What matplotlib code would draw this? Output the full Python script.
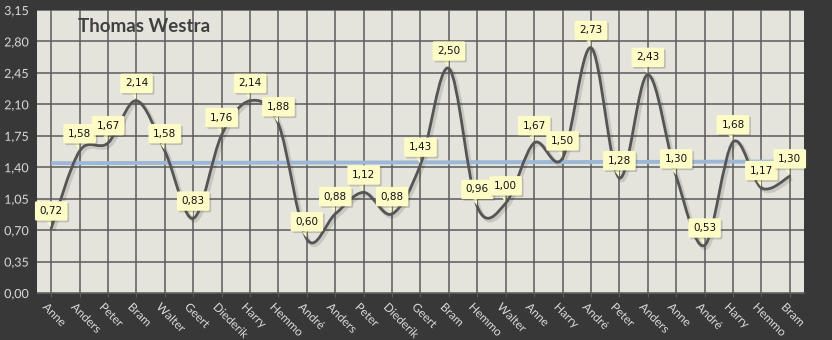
import numpy as np
import matplotlib
matplotlib.use("Agg")
import matplotlib.pyplot as plt
from matplotlib.path import Path
from matplotlib.patches import PathPatch
import matplotlib.patheffects as pe
import matplotlib.transforms as mtrans

names = ["Anne", "Anders", "Peter", "Bram", "Walter", "Geert", "Diederik", "Harry", "Hemmo",
         "André", "Anders", "Peter", "Diederik", "Geert", "Bram", "Hemmo", "Walter", "Anne",
         "Harry", "André", "Peter", "Anders", "Anne", "André", "Harry", "Hemmo", "Bram"]
values = [0.72, 1.58, 1.67, 2.14, 1.58, 0.83, 1.76, 2.14, 1.88, 0.60, 0.88, 1.12, 0.88, 1.43,
          2.50, 0.96, 1.00, 1.67, 1.50, 2.73, 1.28, 2.43, 1.30, 0.53, 1.68, 1.17, 1.30]
yticks = [0.00, 0.35, 0.70, 1.05, 1.40, 1.75, 2.10, 2.45, 2.80, 3.15]
title = "Thomas Westra"

BG = "#383838"
PLOT_BG = "#e4e4dc"
GRID = "#5a5a5a"
LINE = "#555555"
TREND = "#9db8d6"
LABEL_BG = "#fdfbc6"
TICK_COL = "#d9d9d9"

fig = plt.figure(figsize=(8.32, 3.40), dpi=100, facecolor=BG)
ax = fig.add_axes([37/832, 1-293/340, (804-37)/832, (293-10)/340])
ax.set_facecolor(PLOT_BG)

x = np.arange(len(values))
y = np.array(values)

# smoothed line (Catmull-Rom as Bezier)
pts = np.column_stack([x, y]).astype(float)
ext = np.vstack([pts[0], pts, pts[-1]])
verts = [tuple(pts[0])]
codes = [Path.MOVETO]
for i in range(len(pts) - 1):
    p0, p1, p2, p3 = ext[i], ext[i+1], ext[i+2], ext[i+3]
    c1 = p1 + (p2 - p0) / 6.0
    c2 = p2 - (p3 - p1) / 6.0
    verts += [tuple(c1), tuple(c2), tuple(p2)]
    codes += [Path.CURVE4, Path.CURVE4, Path.CURVE4]
path = Path(verts, codes)
shadow = PathPatch(path, fill=False, edgecolor="#000000", lw=3.0, alpha=0.12, zorder=3)
shadow.set_transform(ax.transData + mtrans.ScaledTranslation(1.5/72, -1.5/72, fig.dpi_scale_trans))
ax.add_patch(shadow)
ax.add_patch(PathPatch(path, fill=False, edgecolor=LINE, lw=2.0, zorder=4,
                       capstyle="round", joinstyle="round"))

# linear trendline
coef = np.polyfit(x, y, 1)
ax.plot([x[0], x[-1]], np.polyval(coef, [x[0], x[-1]]), color=TREND, lw=2.8, zorder=3.5,
        solid_capstyle="butt")

# data labels
for xi, yi in zip(x, y):
    t = ax.annotate(f"{yi:.2f}".replace(".", ","), xy=(xi, yi), xytext=(0, 12.5),
                    textcoords="offset points", ha="center", va="center",
                    fontsize=7.5, color="#111111", family="DejaVu Sans", zorder=6,
                    bbox=dict(boxstyle="round,pad=0.45,rounding_size=0.15", fc=LABEL_BG,
                              ec="none"),
                    arrowprops=dict(arrowstyle="wedge,tail_width=0.45,shrink_factor=0.5",
                                    fc=LABEL_BG, ec="none", shrinkA=0, shrinkB=1,
                                    relpos=(0.3, 0.2)))
    t.get_bbox_patch().set_path_effects([pe.SimplePatchShadow(offset=(1.2, -1.2), alpha=0.25),
                                         pe.Normal()])

ax.set_xlim(-0.5, len(values) - 0.5)
ax.set_ylim(0, 3.15)
ax.set_yticks(yticks)
ax.set_yticklabels([f"{v:.2f}".replace(".", ",") for v in yticks])
ax.set_xticks(x)
ax.set_xticklabels(names, rotation=-45, ha="left", va="top", rotation_mode="anchor")
ax.grid(True, color=GRID, lw=1.1)
ax.set_axisbelow(True)
for s in ["top", "right", "left"]:
    ax.spines[s].set_visible(False)
ax.spines["bottom"].set_color(GRID)
ax.tick_params(axis="y", length=0, pad=6, labelsize=9, labelcolor=TICK_COL)
ax.tick_params(axis="x", length=3, color=GRID, pad=3, labelsize=8.5, labelcolor=TICK_COL)
for lab in ax.get_xticklabels():
    lab.set_family("Lato")
    lab.set_path_effects([pe.withSimplePatchShadow(offset=(1, -1), alpha=0.5)])
    lab.set_transform(lab.get_transform() + mtrans.ScaledTranslation(-2/72, 0, fig.dpi_scale_trans))
for lab in ax.get_yticklabels():
    lab.set_family("Lato")
    lab.set_path_effects([pe.withSimplePatchShadow(offset=(1, -1), alpha=0.5)])

fig.text(78/832, 1 - 27/340, title, fontsize=13.5, fontweight="bold",
         color="#404040", family="Lato", ha="left", va="center")

fig.savefig("out.png", dpi=100, facecolor=BG)
